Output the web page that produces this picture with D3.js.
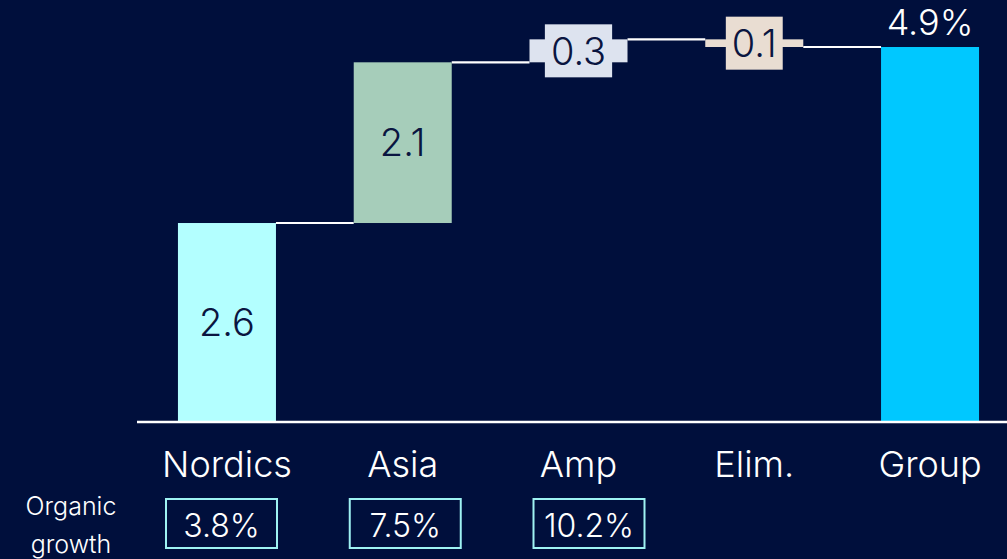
<!DOCTYPE html>
<html>
<head>
<meta charset="utf-8">
<script src="https://cdn.jsdelivr.net/npm/d3@7"></script>
<style>
  html, body { margin: 0; padding: 0; background: #000f3c; }
  svg { display: block; }
  text { font-family: Inter, "Noto Sans", sans-serif; font-weight: 300; }
</style>
</head>
<body>
<svg id="chart" width="1007" height="559"></svg>
<script>
// Contribution to organic growth, percentage points
const categories = ["Nordics", "Asia", "Amp", "Elim.", "Group"];
const values = [2.6, 2.1, 0.3, -0.1, 4.9];
const kinds = ["step", "step", "step", "step", "total"];

// Organic growth by segment
const growthCategories = ["Nordics", "Asia", "Amp"];
const growthValues = [3.8, 7.5, 10.2];
const growthTitle = ["Organic", "growth"];

const fills = {
  "Nordics": "#b3ffff",
  "Asia": "#a6cdba",
  "Amp": "#dde3ef",
  "Elim.": "#e9ddd2",
  "Group": "#00c8ff"
};

const W = 1007, H = 559;
const svg = d3.select("#chart");

const x = d3.scaleBand()
  .domain(categories)
  .range([150, 1007])
  .paddingInner(0.4424)
  .paddingOuter(0.159);

const y = d3.scaleLinear().domain([0, 4.9]).range([422, 47]);

// Build waterfall segments
let running = 0;
const bars = categories.map((c, i) => {
  let from, to;
  if (kinds[i] === "total") { from = 0; to = values[i]; }
  else { from = running; to = running + values[i]; running = to; }
  return { cat: c, value: values[i], kind: kinds[i], from, to };
});

// Connectors between consecutive bars
const connectors = bars.slice(0, -1).map((b, i) => ({
  x1: x(b.cat) + x.bandwidth(),
  x2: x(bars[i + 1].cat),
  level: b.to
}));

svg.append("g").selectAll("line")
  .data(connectors)
  .join("line")
  .attr("x1", d => d.x1)
  .attr("x2", d => d.x2)
  .attr("y1", d => y(d.level))
  .attr("y2", d => y(d.level))
  .attr("stroke", "#ffffff")
  .attr("stroke-width", 2.2);

// Bars
svg.append("g").selectAll("rect")
  .data(bars)
  .join("rect")
  .attr("x", d => x(d.cat))
  .attr("width", x.bandwidth())
  .attr("y", d => y(Math.max(d.from, d.to)))
  .attr("height", d => Math.abs(y(d.from) - y(d.to)))
  .attr("fill", d => fills[d.cat]);

// Baseline
svg.append("line")
  .attr("x1", 137).attr("x2", W)
  .attr("y1", y(0)).attr("y2", y(0))
  .attr("stroke", "#ffffff")
  .attr("stroke-width", 2.5);

// Value labels on step bars
const labelG = svg.append("g");
bars.filter(d => d.kind === "step").forEach(d => {
  const cx = x(d.cat) + x.bandwidth() / 2;
  const cy = (y(d.from) + y(d.to)) / 2;
  const g = labelG.append("g");
  const t = g.append("text")
    .attr("x", cx)
    .attr("y", cy)
    .attr("dy", "0.36em")
    .attr("text-anchor", "middle")
    .attr("font-size", 38)
    .attr("fill", "#0a1540")
    .text(d3.format(".1f")(Math.abs(d.value)));
  const barH = Math.abs(y(d.from) - y(d.to));
  if (barH < 40) {
    const bb = t.node().getBBox();
    g.insert("rect", "text")
      .attr("x", bb.x - 6)
      .attr("width", bb.width + 12)
      .attr("y", cy - 26.5)
      .attr("height", 53)
      .attr("fill", fills[d.cat]);
  }
});

// Total label above the group bar
bars.filter(d => d.kind === "total").forEach(d => {
  labelG.append("text")
    .attr("x", x(d.cat) + x.bandwidth() / 2)
    .attr("y", y(d.to) - 12)
    .attr("text-anchor", "middle")
    .attr("font-size", 36)
    .attr("fill", "#ffffff")
    .text(d3.format(".1f")(d.value) + "%");
});

// Category axis labels
svg.append("g").selectAll("text")
  .data(categories)
  .join("text")
  .attr("x", d => x(d) + x.bandwidth() / 2)
  .attr("y", 477)
  .attr("text-anchor", "middle")
  .attr("font-size", 36)
  .attr("fill", "#ffffff")
  .text(d => d);

// Organic growth row
const gx = d3.scalePoint().domain(growthCategories).range([221.5, 589]);
const growthG = svg.append("g");
growthG.selectAll("rect")
  .data(growthCategories)
  .join("rect")
  .attr("x", d => gx(d) - 55.5)
  .attr("y", 499)
  .attr("width", 111)
  .attr("height", 49)
  .attr("fill", "none")
  .attr("stroke", "#9ef2f2")
  .attr("stroke-width", 2);
growthG.selectAll("text")
  .data(growthCategories)
  .join("text")
  .attr("x", d => gx(d))
  .attr("y", 537)
  .attr("text-anchor", "middle")
  .attr("font-size", 32)
  .attr("fill", "#ffffff")
  .text((d, i) => d3.format(".1f")(growthValues[i]) + "%");

svg.append("g").selectAll("text")
  .data(growthTitle)
  .join("text")
  .attr("x", 71)
  .attr("y", (d, i) => 515 + i * 38)
  .attr("text-anchor", "middle")
  .attr("font-size", 25)
  .attr("fill", "#ffffff")
  .text(d => d);
</script>
</body>
</html>
